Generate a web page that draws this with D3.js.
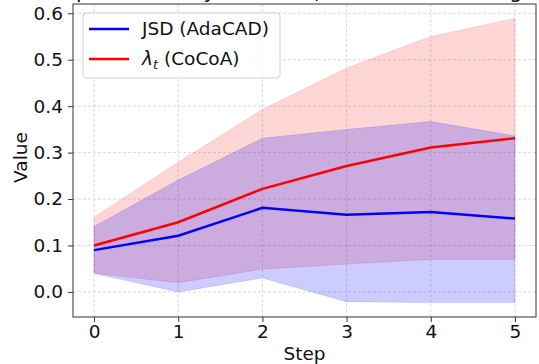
<!DOCTYPE html>
<html>
<head>
<meta charset="utf-8">
<script src="https://cdn.jsdelivr.net/npm/d3@7"></script>
<style>
  body { margin: 0; background: #fff; }
  svg { display: block; font-family: "DejaVu Sans", sans-serif; }
</style>
</head>
<body>
<div id="chart"></div>
<script>
'use strict';

var steps = [0, 1, 2, 3, 4, 5];
var jsdMean = [0.090, 0.121, 0.181, 0.166, 0.172, 0.158];
var jsdLow = [0.040, 0.000, 0.030, -0.021, -0.023, -0.023];
var jsdHigh = [0.141, 0.241, 0.331, 0.350, 0.367, 0.336];
var lamMean = [0.100, 0.150, 0.222, 0.271, 0.311, 0.331];
var lamLow = [0.040, 0.020, 0.049, 0.060, 0.070, 0.070];
var lamHigh = [0.161, 0.279, 0.393, 0.482, 0.550, 0.589];
var yTicks = [0.0, 0.1, 0.2, 0.3, 0.4, 0.5, 0.6];

var fontSize = 18.5;

var scope = {};
scope.width = 539;
scope.height = 364;
scope.margins = { left: 73, right: 3, top: 4, bottom: 47 };
scope.innerW = scope.width - scope.margins.left - scope.margins.right;
scope.innerH = scope.height - scope.margins.top - scope.margins.bottom;

var svg = d3.select('#chart').append('svg')
  .attr('width', scope.width)
  .attr('height', scope.height);

var x = d3.scaleLinear().domain([-0.25, 5.25]).range([0, scope.innerW]);
var y = d3.scaleLinear().domain([-0.054, 0.62]).range([scope.innerH, 0]);

var g = svg.append('g')
  .attr('transform', 'translate(' + scope.margins.left + ',' + scope.margins.top + ')');

// grid
g.append('g').selectAll('line').data(steps).enter().append('line')
  .attr('x1', function(d) { return x(d); })
  .attr('x2', function(d) { return x(d); })
  .attr('y1', 0).attr('y2', scope.innerH)
  .attr('stroke', '#b0b0b0').attr('stroke-opacity', 0.6)
  .attr('stroke-width', 0.8).attr('stroke-dasharray', '3,2');

g.append('g').selectAll('line').data(yTicks).enter().append('line')
  .attr('y1', function(d) { return y(d); })
  .attr('y2', function(d) { return y(d); })
  .attr('x1', 0).attr('x2', scope.innerW)
  .attr('stroke', '#b0b0b0').attr('stroke-opacity', 0.6)
  .attr('stroke-width', 0.8).attr('stroke-dasharray', '3,2');

// bands
function band(lo, hi) {
  return d3.area()
    .x(function(d, i) { return x(steps[i]); })
    .y0(function(d, i) { return y(lo[i]); })
    .y1(function(d, i) { return y(hi[i]); })(steps);
}

g.append('path')
  .attr('d', band(lamLow, lamHigh))
  .attr('fill', '#ff0000').attr('fill-opacity', 0.16)
  .attr('stroke', '#ff0000').attr('stroke-opacity', 0.12);

g.append('path')
  .attr('d', band(jsdLow, jsdHigh))
  .attr('fill', '#0000ff').attr('fill-opacity', 0.2)
  .attr('stroke', '#0000ff').attr('stroke-opacity', 0.12);

// lines
function line(vals) {
  return d3.line()
    .x(function(d, i) { return x(steps[i]); })
    .y(function(d, i) { return y(vals[i]); })(steps);
}

g.append('path').attr('d', line(jsdMean))
  .attr('fill', 'none').attr('stroke', '#0000ff').attr('stroke-width', 2.5);
g.append('path').attr('d', line(lamMean))
  .attr('fill', 'none').attr('stroke', '#ff0000').attr('stroke-width', 2.5);

// frame
g.append('rect')
  .attr('width', scope.innerW).attr('height', scope.innerH)
  .attr('fill', 'none').attr('stroke', '#333').attr('stroke-width', 1);

// axes
var xAxis = g.append('g')
  .attr('transform', 'translate(0,' + scope.innerH + ')')
  .call(d3.axisBottom(x).tickValues(steps).tickFormat(d3.format('d')).tickSize(5).tickSizeOuter(0).tickPadding(3));
var yAxis = g.append('g')
  .call(d3.axisLeft(y).tickValues(yTicks).tickFormat(d3.format('.1f')).tickSize(5).tickSizeOuter(0).tickPadding(5));

[xAxis, yAxis].forEach(function(ax) {
  ax.select('.domain').remove();
  ax.selectAll('line').attr('stroke', '#333');
  ax.selectAll('text').attr('font-size', fontSize).attr('fill', '#111')
    .attr('font-family', '"DejaVu Sans", sans-serif');
});
xAxis.selectAll('text').attr('dy', '0.71em');

svg.append('text')
  .attr('x', scope.margins.left + x(2.5))
  .attr('y', 360)
  .attr('text-anchor', 'middle')
  .attr('font-size', fontSize)
  .attr('fill', '#111')
  .text('Step');

svg.append('text')
  .attr('transform', 'translate(27,' + (scope.margins.top + scope.innerH / 2 - 3) + ') rotate(-90)')
  .attr('text-anchor', 'middle')
  .attr('font-size', fontSize)
  .attr('fill', '#111')
  .text('Value');

// title, mostly above the visible area (only descenders show)
var title = svg.append('text')
  .attr('x', 28)
  .attr('y', -2.5)
  .attr('font-size', 21)
  .attr('fill', '#111');
title.append('tspan').text('Comparison of Dynamic ');
title.append('tspan').attr('font-style', 'italic').text('λ');
title.append('tspan').attr('font-style', 'italic').attr('font-size', 14).text('t');
title.append('tspan').text(' (Mean ± Std Averaged)');

// legend
var legend = g.append('g').attr('transform', 'translate(10,9)');
legend.append('rect')
  .attr('width', 197).attr('height', 65).attr('rx', 3)
  .attr('fill', '#fff').attr('fill-opacity', 0.8)
  .attr('stroke', '#d0d0d0').attr('stroke-width', 1);

var items = [
  { color: '#0000ff' },
  { color: '#ff0000' }
];
var rows = legend.selectAll('g.item').data(items).enter().append('g')
  .attr('class', 'item')
  .attr('transform', function(d, i) { return 'translate(0,' + (16 + i * 30) + ')'; });
rows.append('line')
  .attr('x1', 6).attr('x2', 46)
  .attr('stroke', function(d) { return d.color; })
  .attr('stroke-width', 2.5);

legend.append('text')
  .attr('x', 59).attr('y', 16).attr('dy', '0.35em')
  .attr('font-size', fontSize).attr('fill', '#111')
  .text('JSD (AdaCAD)');

var t1 = legend.append('text')
  .attr('x', 59).attr('y', 46).attr('dy', '0.35em')
  .attr('font-size', fontSize).attr('fill', '#111');
t1.append('tspan').attr('font-style', 'italic').text('λ');
t1.append('tspan').attr('font-style', 'italic').attr('font-size', 13).attr('dy', '0.3em').text('t');
t1.append('tspan').attr('dy', '-0.25em').text(' (CoCoA)');
</script>
</body>
</html>
